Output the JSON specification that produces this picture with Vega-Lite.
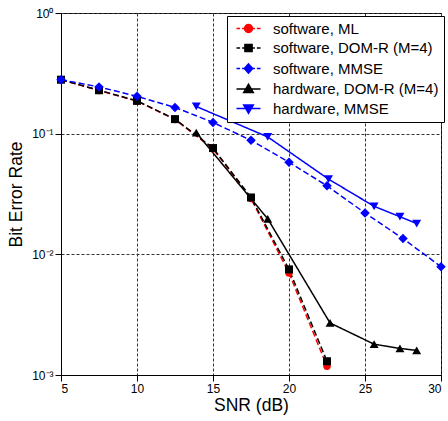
{
  "$schema": "https://vega.github.io/schema/vega-lite/v6.json",
  "width": 380,
  "height": 362,
  "autosize": "none",
  "padding": {"left": 61, "top": 13, "right": 7, "bottom": 46},
  "background": "white",
  "config": {
    "font": "Liberation Sans",
    "view": {"stroke": "black", "strokeWidth": 1},
    "axis": {
      "labelFont": "Liberation Sans",
      "titleFont": "Liberation Sans",
      "labelFontSize": 12,
      "titleFontSize": 17.5,
      "titleFontWeight": "normal",
      "labelColor": "black",
      "titleColor": "black",
      "domainColor": "black",
      "tickColor": "black",
      "tickSize": 6,
      "labelPadding": 2,
      "gridColor": "#333333",
      "gridDash": [3, 2],
      "gridWidth": 1,
      "gridOpacity": 1
    }
  },
  "data": {
    "values": [
      {"snr": 5, "ber": 0.28, "series": "software, ML"},
      {"snr": 7.5, "ber": 0.228, "series": "software, ML"},
      {"snr": 10, "ber": 0.186, "series": "software, ML"},
      {"snr": 12.5, "ber": 0.131, "series": "software, ML"},
      {"snr": 15, "ber": 0.075, "series": "software, ML"},
      {"snr": 17.5, "ber": 0.029, "series": "software, ML"},
      {"snr": 20, "ber": 0.0070, "series": "software, ML"},
      {"snr": 22.5, "ber": 0.00118, "series": "software, ML"},
      {"snr": 5, "ber": 0.28, "series": "software, DOM-R (M=4)"},
      {"snr": 7.5, "ber": 0.229, "series": "software, DOM-R (M=4)"},
      {"snr": 10, "ber": 0.187, "series": "software, DOM-R (M=4)"},
      {"snr": 12.5, "ber": 0.132, "series": "software, DOM-R (M=4)"},
      {"snr": 15, "ber": 0.076, "series": "software, DOM-R (M=4)"},
      {"snr": 17.5, "ber": 0.0296, "series": "software, DOM-R (M=4)"},
      {"snr": 20, "ber": 0.0075, "series": "software, DOM-R (M=4)"},
      {"snr": 22.5, "ber": 0.0013, "series": "software, DOM-R (M=4)"},
      {"snr": 5, "ber": 0.28, "series": "software, MMSE"},
      {"snr": 7.5, "ber": 0.244, "series": "software, MMSE"},
      {"snr": 10, "ber": 0.204, "series": "software, MMSE"},
      {"snr": 12.5, "ber": 0.165, "series": "software, MMSE"},
      {"snr": 15, "ber": 0.124, "series": "software, MMSE"},
      {"snr": 17.5, "ber": 0.088, "series": "software, MMSE"},
      {"snr": 20, "ber": 0.058, "series": "software, MMSE"},
      {"snr": 22.5, "ber": 0.037, "series": "software, MMSE"},
      {"snr": 25, "ber": 0.022, "series": "software, MMSE"},
      {"snr": 27.5, "ber": 0.0135, "series": "software, MMSE"},
      {"snr": 30, "ber": 0.0079, "series": "software, MMSE"},
      {"snr": 13.9, "ber": 0.102, "series": "hardware, DOM-R (M=4)"},
      {"snr": 18.6, "ber": 0.0197, "series": "hardware, DOM-R (M=4)"},
      {"snr": 22.7, "ber": 0.0027, "series": "hardware, DOM-R (M=4)"},
      {"snr": 25.6, "ber": 0.0018, "series": "hardware, DOM-R (M=4)"},
      {"snr": 27.3, "ber": 0.00166, "series": "hardware, DOM-R (M=4)"},
      {"snr": 28.4, "ber": 0.0016, "series": "hardware, DOM-R (M=4)"},
      {"snr": 13.9, "ber": 0.168, "series": "hardware, MMSE"},
      {"snr": 18.6, "ber": 0.094, "series": "hardware, MMSE"},
      {"snr": 22.6, "ber": 0.042, "series": "hardware, MMSE"},
      {"snr": 25.6, "ber": 0.025, "series": "hardware, MMSE"},
      {"snr": 27.3, "ber": 0.0205, "series": "hardware, MMSE"},
      {"snr": 28.4, "ber": 0.018, "series": "hardware, MMSE"}
    ]
  },
  "encoding": {
    "x": {
      "field": "snr",
      "type": "quantitative",
      "title": "SNR (dB)",
      "scale": {"domain": [5, 30], "nice": false, "zero": false},
      "axis": {"values": [5, 10, 15, 20, 25, 30], "grid": true, "titlePadding": 2}
    },
    "y": {
      "field": "ber",
      "type": "quantitative",
      "title": "Bit Error Rate",
      "scale": {"type": "log", "domain": [0.001, 1], "nice": false},
      "axis": {
        "values": [0.001, 0.01, 0.1, 1],
        "grid": true,
        "labelExpr": "datum.value >= 0.9 ? '10⁰' : datum.value >= 0.09 ? '10⁻¹' : datum.value >= 0.009 ? '10⁻²' : '10⁻³'",
        "titlePadding": 6
      }
    }
  },
  "layer": [
    {
      "mark": {"type": "line", "strokeWidth": 1.5, "clip": true},
      "encoding": {
        "color": {
          "field": "series",
          "type": "nominal",
          "scale": {
            "domain": ["hardware, DOM-R (M=4)", "hardware, MMSE", "software, ML", "software, DOM-R (M=4)", "software, MMSE"],
            "range": ["#000000", "#0000ff", "#ff0000", "#000000", "#0000ff"]
          },
          "legend": null
        },
        "strokeDash": {
          "field": "series",
          "type": "nominal",
          "scale": {
            "domain": ["hardware, DOM-R (M=4)", "hardware, MMSE", "software, ML", "software, DOM-R (M=4)", "software, MMSE"],
            "range": [[1, 0], [1, 0], [6, 3], [6, 3], [6, 3]]
          },
          "legend": null
        }
      }
    },
    {
      "transform": [{"filter": "datum.series === 'software, ML'"}],
      "mark": {"type": "point", "shape": "circle", "filled": true, "size": 55, "color": "#ff0000", "opacity": 1}
    },
    {
      "transform": [{"filter": "datum.series === 'software, DOM-R (M=4)'"}],
      "mark": {"type": "point", "shape": "square", "filled": true, "size": 64, "color": "#000000", "opacity": 1}
    },
    {
      "transform": [{"filter": "datum.series === 'software, MMSE'"}],
      "mark": {"type": "point", "shape": "diamond", "filled": true, "size": 90, "color": "#0000ff", "opacity": 1}
    },
    {
      "transform": [{"filter": "datum.series === 'hardware, DOM-R (M=4)'"}],
      "mark": {"type": "point", "shape": "triangle-up", "filled": true, "size": 80, "color": "#000000", "opacity": 1}
    },
    {
      "transform": [{"filter": "datum.series === 'hardware, MMSE'"}],
      "mark": {"type": "point", "shape": "triangle-down", "filled": true, "size": 80, "color": "#0000ff", "opacity": 1}
    },
    {
      "transform": [{"filter": "datum.snr > 100"}],
      "mark": {"type": "point", "filled": true, "size": 64, "opacity": 1},
      "encoding": {
        "shape": {
          "field": "series",
          "type": "nominal",
          "scale": {
            "domain": ["software, ML", "software, DOM-R (M=4)", "software, MMSE", "hardware, DOM-R (M=4)", "hardware, MMSE"],
            "range": [
              "M-3,0H-2.1M-1.6,0H-0.9M0.9,0H1.6M2.1,0H3M-1,0A1,1 0 1,1 1,0A1,1 0 1,1 -1,0Z",
              "M-3,0H-2.1M-1.6,0H-0.9M0.9,0H1.6M2.1,0H3M-0.9,-0.9H0.9V0.9H-0.9Z",
              "M-3,0H-2.1M-1.6,0H-0.9M0.9,0H1.6M2.1,0H3M0,-1.15L1.05,0L0,1.15L-1.05,0Z",
              "M-3,0H3M-1.2,0.85L1.2,0.85L0,-1.2Z",
              "M-3,0H3M-1.2,-0.85L1.2,-0.85L0,1.2Z"
            ]
          },
          "legend": {"title": null, "orient": "none", "legendX": 166, "legendY": 3, "fillColor": "white", "strokeColor": "black", "padding": 5, "symbolOffset": 9, "labelOffset": 17, "symbolSize": 64, "symbolStrokeWidth": 1.5, "symbolOpacity": 1, "labelFontSize": 15, "labelLimit": 300, "labelFont": "Liberation Sans", "labelColor": "black", "rowPadding": 3.5}
        },
        "fill": {
          "field": "series",
          "type": "nominal",
          "scale": {
            "domain": ["software, ML", "software, DOM-R (M=4)", "software, MMSE", "hardware, DOM-R (M=4)", "hardware, MMSE"],
            "range": ["#ff0000", "#000000", "#0000ff", "#000000", "#0000ff"]
          },
          "legend": {"title": null, "orient": "none", "legendX": 166, "legendY": 3, "fillColor": "white", "strokeColor": "black", "padding": 5, "symbolOffset": 9, "labelOffset": 17, "symbolSize": 64, "symbolStrokeWidth": 1.5, "symbolOpacity": 1, "labelFontSize": 15, "labelLimit": 300, "labelFont": "Liberation Sans", "labelColor": "black", "rowPadding": 3.5}
        },
        "stroke": {
          "field": "series",
          "type": "nominal",
          "scale": {
            "domain": ["software, ML", "software, DOM-R (M=4)", "software, MMSE", "hardware, DOM-R (M=4)", "hardware, MMSE"],
            "range": ["#ff0000", "#000000", "#0000ff", "#000000", "#0000ff"]
          },
          "legend": {"title": null, "orient": "none", "legendX": 166, "legendY": 3, "fillColor": "white", "strokeColor": "black", "padding": 5, "symbolOffset": 9, "labelOffset": 17, "symbolSize": 64, "symbolStrokeWidth": 1.5, "symbolOpacity": 1, "labelFontSize": 15, "labelLimit": 300, "labelFont": "Liberation Sans", "labelColor": "black", "rowPadding": 3.5}
        }
      }
    }
  ]
}
